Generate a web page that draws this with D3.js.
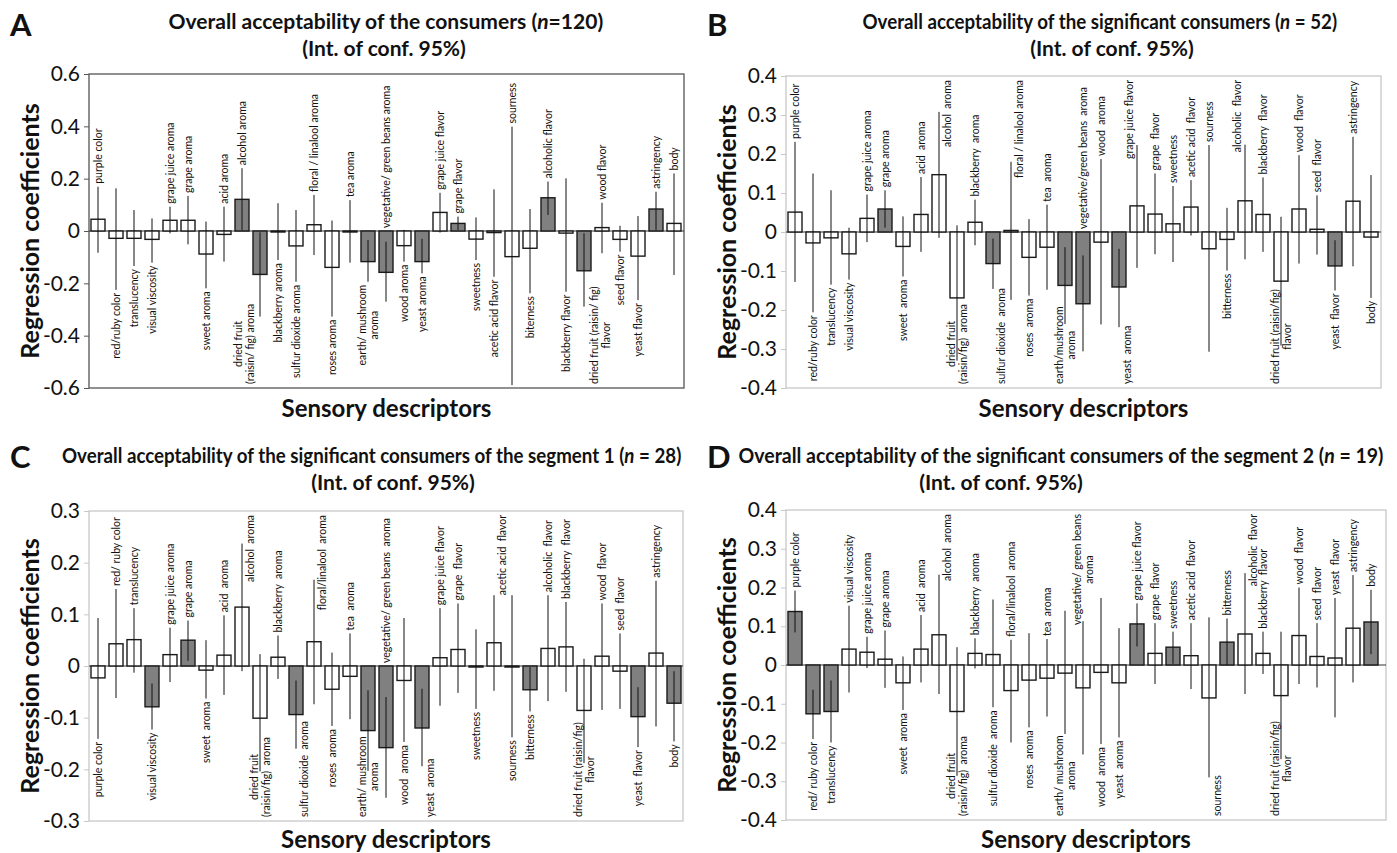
<!DOCTYPE html>
<html><head><meta charset="utf-8">
<script src="https://cdn.jsdelivr.net/npm/d3@7"></script>
<style>
body{margin:0;background:#fff}
svg{display:block}
text{font-family:Lato,"Open Sans",sans-serif;fill:#111}
.lbl{white-space:pre}
</style>
</head><body>
<svg id="chart" width="1397" height="853"></svg>
<script>
// ---------------- DATA ----------------
const labelsA = ["purple color","red/ruby color","translucency","visual viscosity","grape juice aroma","grape aroma","sweet aroma","acid aroma","alcohol aroma","dried fruit\n(raisin/ fig) aroma","blackberry aroma","sulfur dioxide aroma","floral / linalool aroma","roses aroma","tea aroma","earth/ mushroom\naroma","vegetative/ green beans aroma","wood aroma","yeast aroma","grape juice flavor","grape flavor","sweetness","acetic acid flavor","sourness","biterness","alcoholic flavor","blackberry flavor","dried fruit (raisin/ fig)\nflavor","wood flavor","seed flavor","yeast flavor","astringency","body"];
const valuesA = [0.045,-0.028,-0.028,-0.032,0.041,0.041,-0.088,-0.013,0.121,-0.166,-0.002,-0.057,0.024,-0.139,-0.002,-0.117,-0.158,-0.056,-0.117,0.071,0.029,-0.031,-0.006,-0.098,-0.066,0.127,-0.008,-0.152,0.013,-0.032,-0.096,0.084,0.029];
const lowA = [-0.083,-0.225,-0.134,-0.121,-0.009,-0.051,-0.219,-0.117,0.004,-0.327,-0.111,-0.194,-0.092,-0.327,-0.121,-0.194,-0.270,-0.117,-0.162,-0.006,0.004,-0.111,-0.175,-0.589,-0.238,0.061,-0.232,-0.289,-0.085,-0.079,-0.264,0.004,-0.168];
const highA = [0.169,0.163,0.080,0.048,0.093,0.134,0.036,0.093,0.240,-0.005,0.106,0.080,0.138,0.040,0.118,-0.034,-0.041,0.004,-0.030,0.146,0.055,0.052,0.159,0.399,0.084,0.189,0.201,-0.009,0.108,0.020,0.057,0.150,0.220];
const sigA = [0,0,0,0,0,0,0,0,1,1,0,0,0,0,0,1,1,0,1,0,1,0,0,0,0,1,0,1,0,0,0,1,0];
const sideA = ["u","d","d","d","u","u","d","u","u","d","d","d","u","d","u","d","u","d","d","u","u","d","d","u","d","u","d","d","u","d","d","u","u"];
const ticksA = [0.6,0.4,0.2,0,-0.2,-0.4,-0.6];
const tickLabelsA = ["0.6","0.4","0.2","0","-0.2","-0.4","-0.6"];

const labelsB = ["purple color","red/ruby color","translucency","visual viscosity","grape juice aroma","grape aroma","sweet  aroma","acid  aroma","alcohol  aroma","dried fruit\n(raisin/fig)  aroma","blackberry  aroma","sulfur dioxide  aroma","floral / linalool aroma","roses  aroma","tea  aroma","earth/mushroom\naroma","vegetative/green beans  aroma","wood  aroma","yeast  aroma","grape juice flavor","grape  flavor","sweetness","acetic acid  flavor","sourness","bitterness","alcoholic  flavor","blackberry  flavor","dried fruit (raisin/fig)\nflavor","wood  flavor","seed  flavor","yeast  flavor","astringency","body"];
const valuesB = [0.051,-0.028,-0.015,-0.056,0.035,0.059,-0.037,0.045,0.147,-0.169,0.025,-0.081,0.004,-0.065,-0.039,-0.137,-0.184,-0.026,-0.141,0.067,0.046,0.021,0.064,-0.043,-0.019,0.080,0.045,-0.126,0.059,0.007,-0.087,0.079,-0.013];
const lowB = [-0.128,-0.206,-0.135,-0.122,-0.026,0.011,-0.114,-0.051,-0.015,-0.330,-0.034,-0.146,-0.174,-0.163,-0.148,-0.236,-0.306,-0.237,-0.244,-0.092,-0.057,-0.077,-0.009,-0.307,-0.099,-0.070,-0.051,-0.291,-0.081,-0.058,-0.150,-0.088,-0.169];
const highB = [0.231,0.150,0.107,0.011,0.096,0.107,0.040,0.141,0.308,0.017,0.083,-0.017,0.180,0.033,0.070,-0.039,-0.060,0.187,-0.043,0.223,0.150,0.118,0.133,0.223,0.062,0.224,0.140,0.039,0.197,0.094,-0.021,0.244,0.146];
const sigB = [0,0,0,0,0,1,0,0,0,0,0,1,0,0,0,1,1,0,1,0,0,0,0,0,0,0,0,0,0,0,1,0,0];
const sideB = ["u","d","d","d","u","u","d","u","u","d","u","d","u","d","u","d","u","u","d","u","u","u","u","u","d","u","u","d","u","u","d","u","d"];
const ticksB = [0.4,0.3,0.2,0.1,0,-0.1,-0.2,-0.3,-0.4];
const tickLabelsB = ["0.4","0.3","0.2","0.1","0","-0.1","-0.2","-0.3","-0.4"];

const labelsC = ["purple color","red/ ruby color","translucency","visual viscosity","grape juice aroma","grape aroma","sweet  aroma","acid  aroma","alcohol  aroma","dried fruit\n(raisin/fig)  aroma","blackberry  aroma","sulfur dioxide  aroma","floral/linalool  aroma","roses  aroma","tea  aroma","earth/ mushroom\naroma","vegetative/ green beans  aroma","wood  aroma","yeast  aroma","grape juice flavor","grape  flavor","sweetness","acetic acid  flavor","sourness","bitterness","alcoholic  flavor","blackberry  flavor","dried fruit (raisin/fig)\nflavor","wood  flavor","seed  flavor","yeast  flavor","astringency","body"];
const valuesC = [-0.023,0.043,0.051,-0.079,0.022,0.050,-0.008,0.021,0.114,-0.101,0.017,-0.094,0.047,-0.045,-0.020,-0.125,-0.158,-0.028,-0.120,0.016,0.032,-0.002,0.045,-0.002,-0.046,0.034,0.037,-0.086,0.019,-0.010,-0.098,0.025,-0.072];
const lowC = [-0.141,-0.062,-0.013,-0.123,-0.031,0.010,-0.063,-0.056,-0.010,-0.204,-0.025,-0.160,-0.074,-0.116,-0.103,-0.203,-0.255,-0.147,-0.194,-0.077,-0.052,-0.083,-0.048,-0.138,-0.088,-0.068,-0.050,-0.188,-0.085,-0.083,-0.157,-0.117,-0.146];
const highC = [0.093,0.149,0.112,-0.034,0.074,0.088,0.050,0.098,0.237,0.023,0.059,-0.028,0.167,0.026,0.063,-0.047,-0.060,0.093,-0.044,0.112,0.121,0.071,0.137,0.137,-0.002,0.137,0.124,0.014,0.121,0.063,-0.041,0.165,-0.010];
const sigC = [0,0,0,1,0,1,0,0,0,0,0,1,0,0,0,1,1,0,1,0,0,0,0,0,1,0,0,0,0,0,1,0,1];
const sideC = ["d","u","u","d","u","u","d","u","u","d","u","d","u","d","u","d","u","d","d","u","u","d","u","d","d","u","u","d","u","u","d","u","d"];
const ticksC = [0.3,0.2,0.1,0,-0.1,-0.2,-0.3];
const tickLabelsC = ["0.3","0.2","0.1","0","-0.1","-0.2","-0.3"];

const labelsD = ["purple color","red/ ruby color","translucency","visual viscosity","grape juice aroma","grape aroma","sweet  aroma","acid  aroma","alcohol  aroma","dried fruit\n(raisin/fig)  aroma","blackberry  aroma","sulfur dioxide  aroma","floral/linalool  aroma","roses  aroma","tea  aroma","earth/ mushroom\naroma","vegetative/ green beans\naroma","wood  aroma","yeast  aroma","grape juice flavor","grape  flavor","sweetness","acetic acid  flavor","sourness","bitterness","alcoholic  flavor","blackberry  flavor","dried fruit (raisin/fig)\nflavor","wood  flavor","seed  flavor","yeast  flavor","astringency","body"];
const valuesD = [0.138,-0.126,-0.120,0.041,0.033,0.015,-0.046,0.041,0.078,-0.120,0.030,0.027,-0.066,-0.039,-0.034,-0.021,-0.059,-0.019,-0.046,0.106,0.030,0.046,0.024,-0.085,0.059,0.080,0.030,-0.079,0.076,0.022,0.018,0.095,0.111];
const lowD = [0.084,-0.191,-0.200,-0.071,-0.008,-0.059,-0.116,-0.045,-0.075,-0.286,-0.009,-0.109,-0.200,-0.161,-0.133,-0.178,-0.231,-0.204,-0.187,0.048,-0.049,0.003,-0.062,-0.290,0.000,-0.075,-0.023,-0.243,-0.049,-0.058,-0.135,-0.045,0.028];
const highD = [0.192,-0.064,-0.040,0.153,0.073,0.089,0.022,0.129,0.233,0.046,0.069,0.169,0.065,0.082,0.067,0.140,0.113,0.173,0.095,0.159,0.108,0.086,0.108,0.123,0.120,0.237,0.086,0.086,0.200,0.108,0.173,0.232,0.194];
const sigD = [1,1,1,0,0,0,0,0,0,0,0,0,0,0,0,0,0,0,0,1,0,1,0,0,1,0,0,0,0,0,0,0,1];
const sideD = ["u","d","d","u","u","u","d","u","u","d","u","d","u","d","u","d","u","d","d","u","u","u","u","d","u","u","u","d","u","u","u","u","u"];
const ticksD = [0.4,0.3,0.2,0.1,0,-0.1,-0.2,-0.3,-0.4];
const tickLabelsD = ["0.4","0.3","0.2","0.1","0","-0.1","-0.2","-0.3","-0.4"];

const titlesA = ["Overall acceptability of the consumers (", "n", "=120)"];
const titlesB = ["Overall acceptability of the significant consumers (", "n", " = 52)"];
const titlesC = ["Overall acceptability of the significant consumers of the segment 1 (", "n", " = 28)"];
const titlesD = ["Overall acceptability of the significant consumers of the segment 2 (", "n", " = 19)"];
const subtitle = "(Int. of conf. 95%)";
const yTitle = "Regression coefficients";
const xTitle = "Sensory descriptors";

// ---------------- LAYOUT ----------------
const svg = d3.select("#chart");
const panels = [
  {letter:"A", labels:labelsA, values:valuesA, low:lowA, high:highA, sig:sigA, side:sideA, ticks:ticksA, tickLabels:tickLabelsA, title:titlesA,
   x0:89, x1:684, yT:74, yB:388, dom:[-0.6,0.6], frame:"#555", lx:10, ly:36, t1x:386, t2x:384, t1y:29, t2y:56, ytx:30, xty:417, tw:435},
  {letter:"B", labels:labelsB, values:valuesB, low:lowB, high:highB, sig:sigB, side:sideB, ticks:ticksB, tickLabels:tickLabelsB, title:titlesB,
   x0:786, x1:1381, yT:76, yB:388, dom:[-0.4,0.4], frame:"#c8c8c8", lx:707, ly:36, t1x:1100, t2x:1112, t1y:29, t2y:56, ytx:727, xty:417, tw:475},
  {letter:"C", labels:labelsC, values:valuesC, low:lowC, high:highC, sig:sigC, side:sideC, ticks:ticksC, tickLabels:tickLabelsC, title:titlesC,
   x0:89, x1:683, yT:511, yB:821, dom:[-0.3,0.3], frame:"#c8c8c8", lx:10, ly:468, t1x:372, t2x:393, t1y:463, t2y:490, ytx:30, xty:848, tw:620},
  {letter:"D", labels:labelsD, values:valuesD, low:lowD, high:highD, sig:sigD, side:sideD, ticks:ticksD, tickLabels:tickLabelsD, title:titlesD,
   x0:786, x1:1386, yT:510, yB:820, dom:[-0.4,0.4], frame:"#c8c8c8", lx:707, ly:468, t1x:1061, t2x:1001, t1y:463, t2y:490, ytx:727, xty:848, tw:645}
];

panels.forEach(p => {
  const g = svg.append("g");
  const n = p.labels.length;
  const x = d3.scaleBand().domain(d3.range(n)).range([p.x0, p.x0 + n*18]).paddingInner(0.222).paddingOuter(0.111);
  const y = d3.scaleLinear().domain(p.dom).range([p.yB, p.yT]);

  // frame
  g.append("rect").attr("x", p.x0).attr("y", p.yT).attr("width", p.x1 - p.x0).attr("height", p.yB - p.yT)
    .attr("fill", "none").attr("stroke", p.frame).attr("stroke-width", 1.3);

  // y axis ticks and labels
  const yAxis = d3.axisLeft(y).tickValues(p.ticks).tickSize(5).tickFormat((d,i) => p.tickLabels[i]);
  const ya = g.append("g").attr("transform", `translate(${p.x0},0)`).call(yAxis);
  ya.select(".domain").remove();
  ya.selectAll(".tick line").attr("stroke", p.frame);
  ya.selectAll(".tick text").attr("font-family", "Lato, sans-serif").attr("font-size", 21).attr("fill", "#111").attr("x", -9);

  // zero line
  g.append("line").attr("x1", p.x0).attr("x2", p.x1).attr("y1", y(0)).attr("y2", y(0))
    .attr("stroke", "#333").attr("stroke-width", 1);

  const idx = d3.range(n);
  // bars
  g.selectAll("rect.bar").data(idx).join("rect").attr("class","bar")
    .attr("x", i => x(i)).attr("width", x.bandwidth())
    .attr("y", i => y(Math.max(0, p.values[i])))
    .attr("height", i => Math.max(1, Math.abs(y(p.values[i]) - y(0))))
    .attr("fill", i => p.sig[i] ? "#808080" : "#fff")
    .attr("stroke", "#1a1a1a").attr("stroke-width", 1.4);

  // error bars
  g.selectAll("line.err").data(idx).join("line").attr("class","err")
    .attr("x1", i => x(i) + x.bandwidth()/2).attr("x2", i => x(i) + x.bandwidth()/2)
    .attr("y1", i => y(p.high[i])).attr("y2", i => y(p.low[i]))
    .attr("stroke", "#111").attr("stroke-width", 1);

  // rotated labels
  idx.forEach(i => {
    let cx = x(i) + x.bandwidth()/2;
    const lines = p.labels[i].split("\n");
    const t = g.append("text").attr("class","lbl").attr("font-size", 10.5).attr("text-anchor","middle");
    lines.forEach((s, k) => {
      t.append("tspan").attr("x", 0).attr("y", 0).attr("dy", ((k - (lines.length-1)/2) * 1.15 + 0.35) + "em").text(s);
    });
    let maxLen = 0;
    t.selectAll("tspan").each(function(){ maxLen = Math.max(maxLen, this.getComputedTextLength()); });
    let py, clamped = false;
    const s = p.side[i];
    if (s === "u") {
      py = y(Math.max(p.high[i], 0, p.values[i])) - 3 - maxLen/2;
      const lim = p.yT + 4 + maxLen/2;
      if (py < lim) { py = lim; clamped = true; }
    } else {
      py = y(Math.min(p.low[i], 0, p.values[i])) + 3 + maxLen/2;
      const lim = p.yB - 4 - maxLen/2;
      if (py > lim) { py = lim; clamped = true; }
    }
    const leftSame = i > 0 && p.side[i-1] === s;
    const rightSame = i < n-1 && p.side[i+1] === s;
    if (clamped && lines.length === 1) {
      cx += (rightSame && !leftSame) ? -8 : 8;
    }
    if (lines.length > 1 && s === "d") {
      if (leftSame && !rightSame) cx += 16;
      else if (rightSame && !leftSame) cx -= 16;
    }
    t.attr("transform", `translate(${cx},${py}) rotate(-90)`);
  });

  // panel letter
  svg.append("text").attr("x", p.lx).attr("y", p.ly).attr("font-family", "Arial, 'Liberation Sans', sans-serif")
    .attr("font-weight", "bold").attr("font-size", 31).text(p.letter);

  // title (horizontally fitted to the reference width)
  const t1 = svg.append("text").attr("font-weight","bold").attr("font-size", 20);
  t1.append("tspan").text(p.title[0]);
  t1.append("tspan").attr("font-style","italic").text(p.title[1]);
  t1.append("tspan").text(p.title[2]);
  const natural = t1.node().getComputedTextLength();
  t1.attr("transform", `translate(${p.t1x - p.tw/2},${p.t1y}) scale(${p.tw/natural},1)`);
  svg.append("text").attr("x", p.t2x).attr("y", p.t2y).attr("text-anchor","middle")
    .attr("font-weight","bold").attr("font-size", 21).text(subtitle);

  // axis titles
  svg.append("text").attr("transform", `translate(${p.ytx},${(p.yT+p.yB)/2}) rotate(-90)`)
    .attr("text-anchor","middle").attr("dy","0.35em").attr("font-weight","bold").attr("font-size", 25).text(yTitle);
  svg.append("text").attr("x", (p.x0+p.x1)/2).attr("y", p.xty).attr("text-anchor","middle")
    .attr("font-weight","bold").attr("font-size", 24).text(xTitle);
});
</script>
</body></html>
